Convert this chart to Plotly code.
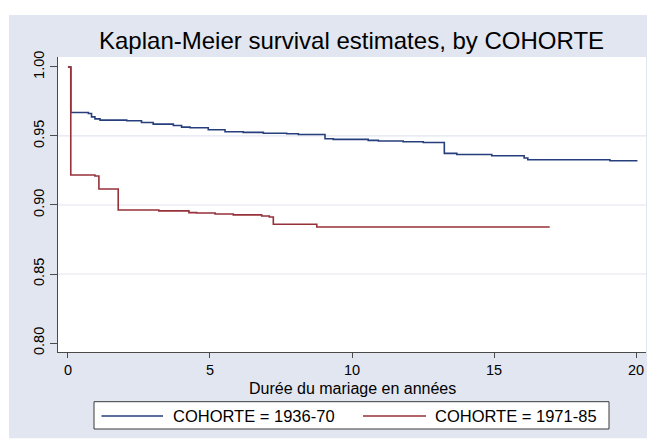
import plotly.graph_objects as go

# ---------------- data ----------------
title_text = "Kaplan-Meier survival estimates, by COHORTE"
x_title = "Durée du mariage en années"
series_names = ["COHORTE = 1936-70", "COHORTE = 1971-85"]

t_1936 = [0, 0.10, 0.72, 0.83, 0.95, 1.13, 2.07, 2.59, 3.00, 3.71, 4.00, 4.30, 4.94,
          5.53, 6.17, 6.88, 7.70, 8.11, 9.05, 9.34, 10.57, 10.93, 11.80, 12.51, 13.25,
          13.69, 14.92, 16.06, 16.19, 19.08, 20.05]
s_1936 = [1.0, 0.9670, 0.9663, 0.9638, 0.9624, 0.9615, 0.9610, 0.9598, 0.9586, 0.9576,
          0.9564, 0.9559, 0.9545, 0.9530, 0.9526, 0.9520, 0.9516, 0.9511, 0.9480, 0.9475,
          0.9468, 0.9463, 0.9458, 0.9453, 0.9374, 0.9366, 0.9357, 0.9340, 0.9328, 0.9320,
          0.9320]

t_1971 = [0, 0.10, 0.95, 1.09, 1.77, 3.20, 4.26, 4.53, 5.18, 5.82, 6.82, 7.09, 7.23,
          8.76, 16.96]
s_1971 = [1.0, 0.9217, 0.9210, 0.9116, 0.8964, 0.8957, 0.8945, 0.8942, 0.8935, 0.8928,
          0.8920, 0.8913, 0.8860, 0.8841, 0.8841]

x_ticks = [0, 5, 10, 15, 20]
y_ticks = [0.80, 0.85, 0.90, 0.95, 1.00]
grid_vals = [0.85, 0.90, 0.95]

# ---------------- layout helpers ----------------
# figure sits in the page with an 8px body margin
OFF = 8
W, H = 647, 431
L, R, T, B = 50, 9, 49, 87
PW, PH = W - L - R, H - T - B


def pxx(x):  # page x pixel -> paper
    return (x - OFF - L) / PW


def pyy(y):  # page y pixel -> paper
    return (H - B - (y - OFF)) / PH


BLUE = "#263F7C"
RED = "#963139"
BG = "#E2E6F0"
AX = "#4A4A4A"
FONT = "Liberation Sans, Arial, sans-serif"

fig = go.Figure()
fig.add_trace(go.Scatter(x=t_1936, y=s_1936, mode="lines", line_shape="hv",
                         line=dict(color=BLUE, width=1.6), name=series_names[0],
                         showlegend=False, hoverinfo="skip"))
fig.add_trace(go.Scatter(x=t_1971, y=s_1971, mode="lines", line_shape="hv",
                         line=dict(color=RED, width=1.6), name=series_names[1],
                         showlegend=False, hoverinfo="skip"))

shapes = []
# white outer margins (top, left, bottom)
shapes.append(dict(type="rect", xref="paper", yref="paper", x0=pxx(0), x1=pxx(700),
                   y0=pyy(15), y1=pyy(0), fillcolor="white", line_width=0, layer="below"))
shapes.append(dict(type="rect", xref="paper", yref="paper", x0=pxx(0), x1=pxx(9),
                   y0=pyy(450), y1=pyy(0), fillcolor="white", line_width=0, layer="below"))
shapes.append(dict(type="rect", xref="paper", yref="paper", x0=pxx(0), x1=pxx(700),
                   y0=pyy(450), y1=pyy(438.3), fillcolor="white", line_width=0, layer="below"))
# gridlines
for g in grid_vals:
    shapes.append(dict(type="line", xref="paper", yref="y", x0=0, x1=1, y0=g, y1=g,
                       line=dict(color=BG, width=1.2), layer="below"))
# legend box and samples
shapes.append(dict(type="rect", xref="paper", yref="paper", x0=pxx(94), x1=pxx(609),
                   y0=pyy(429), y1=pyy(401.7), fillcolor="white",
                   line=dict(color="#3A3A3A", width=1)))
shapes.append(dict(type="line", xref="paper", yref="paper", x0=pxx(101.5), x1=pxx(163),
                   y0=pyy(416), y1=pyy(416), line=dict(color=BLUE, width=1.4)))
shapes.append(dict(type="line", xref="paper", yref="paper", x0=pxx(363), x1=pxx(426),
                   y0=pyy(416), y1=pyy(416), line=dict(color=RED, width=1.4)))

annotations = [
    dict(text=title_text, xref="paper", yref="paper", x=pxx(351), y=pyy(41),
         xanchor="center", yanchor="middle", showarrow=False,
         font=dict(size=24, color="black", family=FONT)),
    dict(text=x_title, xref="paper", yref="paper", x=pxx(352), y=pyy(388),
         xanchor="center", yanchor="middle", showarrow=False, borderpad=0,
         font=dict(size=16, color="black", family=FONT)),
    dict(text=series_names[0], xref="paper", yref="paper", x=pxx(171), y=pyy(415.5),
         xanchor="left", yanchor="middle", showarrow=False,
         font=dict(size=16.5, color="black", family=FONT)),
    dict(text=series_names[1], xref="paper", yref="paper", x=pxx(433), y=pyy(415.5),
         xanchor="left", yanchor="middle", showarrow=False,
         font=dict(size=16.5, color="black", family=FONT)),
]

fig.update_layout(
    width=W, height=H,
    margin=dict(l=L, r=R, t=T, b=B, pad=0),
    paper_bgcolor=BG, plot_bgcolor="white",
    font=dict(family=FONT, color="black"),
    shapes=shapes, annotations=annotations,
    showlegend=False,
    xaxis=dict(range=[-0.35, 20.35], tickmode="array", tickvals=x_ticks,
               showline=True, linecolor=AX, linewidth=1, ticks="outside", ticklen=5,
               tickcolor=AX, tickwidth=1, showgrid=False, zeroline=False,
               tickfont=dict(size=14.5, color="black", family=FONT), fixedrange=True),
    yaxis=dict(range=[0.7935, 1.0072], tickmode="array", tickvals=y_ticks,
               tickformat=".2f", tickangle=-90,
               showline=True, linecolor=AX, linewidth=1, ticks="outside", ticklen=7,
               tickcolor=AX, tickwidth=1, showgrid=False, zeroline=False,
               tickfont=dict(size=14.5, color="black", family=FONT), fixedrange=True),
)

fig.write_html("out.html")
